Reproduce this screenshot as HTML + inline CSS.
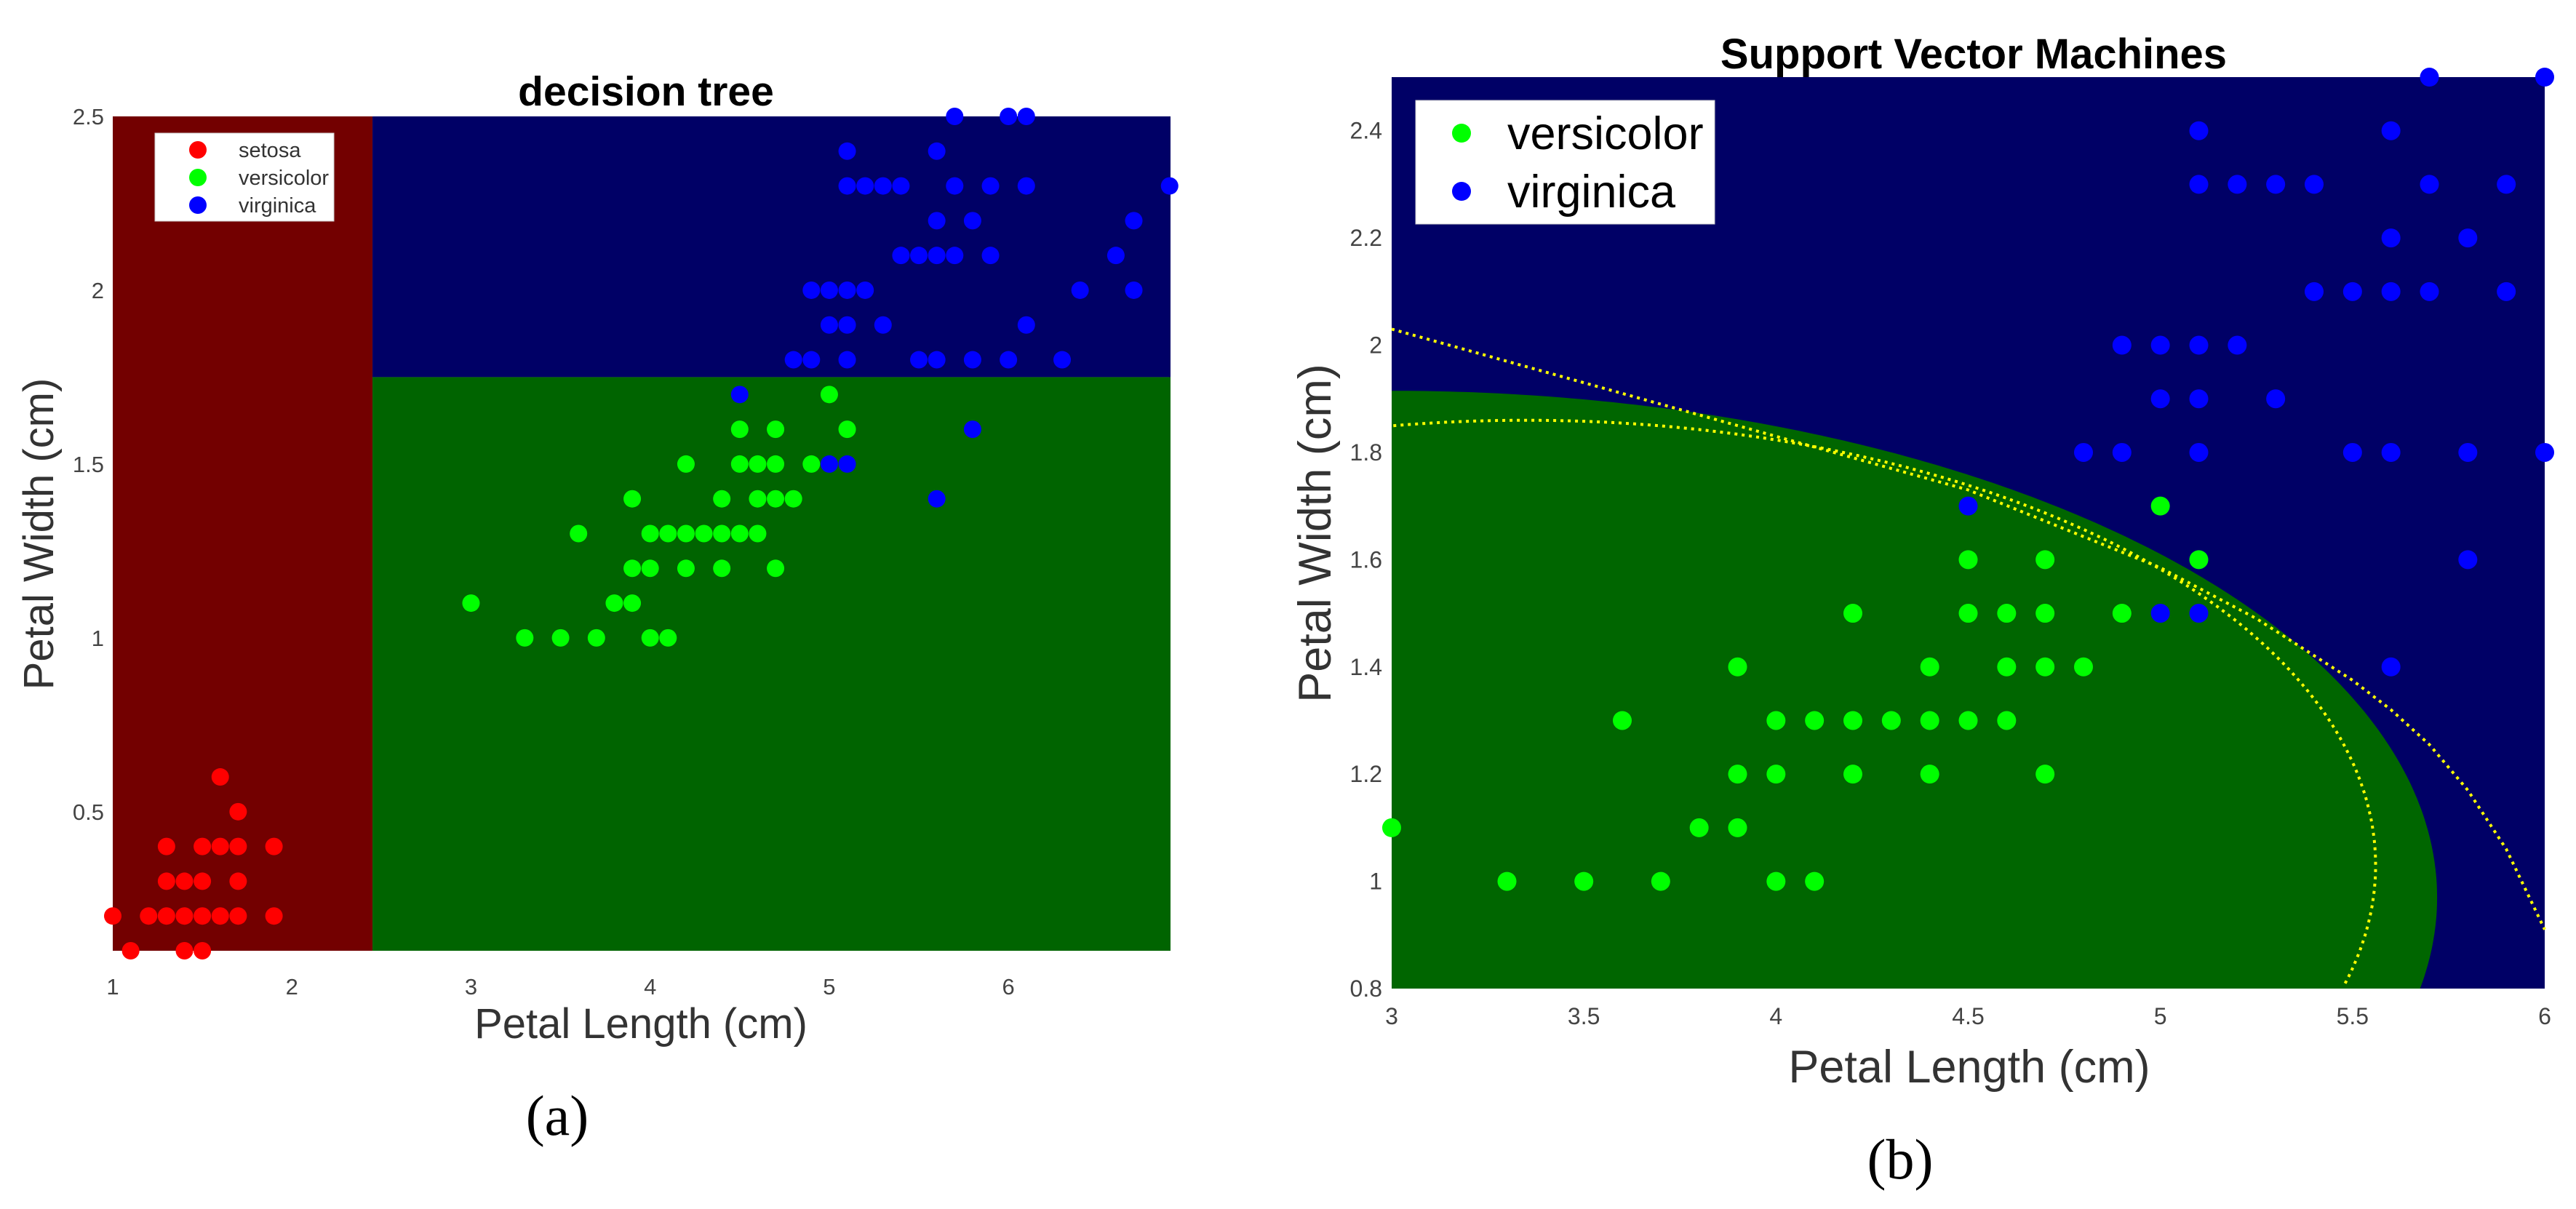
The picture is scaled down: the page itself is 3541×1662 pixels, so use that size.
<!DOCTYPE html>
<html><head><meta charset="utf-8"><style>
html,body{margin:0;padding:0;background:#fff;overflow:hidden;width:3541px;height:1662px;}
svg{display:block;}
text{font-family:"Liberation Sans",Arial,sans-serif;}
text.serif{font-family:"Liberation Serif",serif;}
</style></head><body>
<svg id="fig" width="3541" height="1662" viewBox="0 0 3541 1662" xmlns="http://www.w3.org/2000/svg">
<g id="chartA"></g>
<g id="chartB"></g>
</svg>
<script>
// Iris petal data (length, width)
const setosaX = [1.1,1.4,1.5, 1.0,1.2,1.3,1.4,1.5,1.6,1.7,1.9, 1.3,1.4,1.5,1.7, 1.3,1.5,1.6,1.7,1.9, 1.7, 1.6];
const setosaY = [0.1,0.1,0.1, 0.2,0.2,0.2,0.2,0.2,0.2,0.2,0.2, 0.3,0.3,0.3,0.3, 0.4,0.4,0.4,0.4,0.4, 0.5, 0.6];
const versiX = [3.3,3.5,3.7,4.0,4.1, 3.0,3.8,3.9, 3.9,4.0,4.2,4.4,4.7, 3.6,4.0,4.1,4.2,4.3,4.4,4.5,4.6, 3.9,4.4,4.6,4.7,4.8, 4.2,4.5,4.6,4.7,4.9, 4.5,4.7,5.1, 5.0];
const versiY = [1.0,1.0,1.0,1.0,1.0, 1.1,1.1,1.1, 1.2,1.2,1.2,1.2,1.2, 1.3,1.3,1.3,1.3,1.3,1.3,1.3,1.3, 1.4,1.4,1.4,1.4,1.4, 1.5,1.5,1.5,1.5,1.5, 1.6,1.6,1.6, 1.7];
const virgX = [5.6, 5.0,5.1, 5.8, 4.5, 4.8,4.9,5.1,5.5,5.6,5.8,6.0,6.3, 5.0,5.1,5.3,6.1, 4.9,5.0,5.1,5.2,6.4,6.7, 5.4,5.5,5.6,5.7,5.9,6.6, 5.6,5.8,6.7, 5.1,5.2,5.3,5.4,5.7,5.9,6.1,6.9, 5.1,5.6, 5.7,6.0,6.1];
const virgY = [1.4, 1.5,1.5, 1.6, 1.7, 1.8,1.8,1.8,1.8,1.8,1.8,1.8,1.8, 1.9,1.9,1.9,1.9, 2.0,2.0,2.0,2.0,2.0,2.0, 2.1,2.1,2.1,2.1,2.1,2.1, 2.2,2.2,2.2, 2.3,2.3,2.3,2.3,2.3,2.3,2.3,2.3, 2.4,2.4, 2.5,2.5,2.5];
// Decision tree splits
const treeSplitLength = [2.45];
const treeSplitWidth = [1.75];
const ticksAX = [1,2,3,4,5,6];
const ticksAY = [0.5,1,1.5,2,2.5];
const ticksBX = [3,3.5,4,4.5,5,5.5,6];
const ticksBY = [0.8,1,1.2,1.4,1.6,1.8,2,2.2,2.4];
// SVM boundary (ellipse params: cx, cy, rx, ry in data units)
const svmRegion = [3.0, 0.97, 2.72, 0.945];
const svmInner = [3.35, 1.03, 2.21, 0.83];
const svmOuterX = [3.0,3.5,4.0,4.5,5.0,5.25,5.5,5.6,5.7,5.8,5.9,6.0];
const svmOuterY = [2.03,1.93,1.83,1.73,1.585,1.49,1.375,1.32,1.255,1.17,1.06,0.91];

const NS = "http://www.w3.org/2000/svg";
function mk(parent, tag, attrs, txt){
  const e = document.createElementNS(NS, tag);
  for (const k in attrs) e.setAttribute(k, attrs[k]);
  if (txt !== undefined) e.textContent = txt;
  parent.appendChild(e);
  return e;
}
function lin(d0,d1,r0,r1){return v => r0 + (v-d0)/(d1-d0)*(r1-r0);}

// ---------- Chart A ----------
(function(){
  const g = document.getElementById('chartA');
  const L=155,R=1609,T=160,B=1307;
  const xs = lin(1,6.905,L,R), ys = lin(0.1,2.5,B,T);
  const sx = xs(treeSplitLength[0]), sy = ys(treeSplitWidth[0]);
  let r;
  r = mk(g,'rect',{x:L,y:T,width:sx-L,height:B-T,fill:'#730000'});
   
  r = mk(g,'rect',{x:sx,y:T,width:R-sx,height:sy-T,fill:'#000066'});
   
  r = mk(g,'rect',{x:sx,y:sy,width:R-sx,height:B-sy,fill:'#006400'});
   
  function pts(X,Y,col,name){
    for(let i=0;i<X.length;i++){
      const c = mk(g,'circle',{cx:xs(X[i]),cy:ys(Y[i]),r:12,fill:col});
      
      
    }
  }
  pts(setosaX,setosaY,'#ff0000','setosa-point');
  pts(versiX,versiY,'#00ff00','versicolor-point');
  pts(virgX,virgY,'#0000ff','virginica-point');
  ticksAX.forEach(v=>{const t=mk(g,'text',{x:xs(v),y:1367,'font-size':31,fill:'#444','text-anchor':'middle'},String(v));
     });
  ticksAY.forEach(v=>{const t=mk(g,'text',{x:143,y:ys(v)+11,'font-size':31,fill:'#444','text-anchor':'end'},String(v));
     });
  const lg = mk(g,'g',{});
   
  mk(lg,'rect',{x:213,y:183,width:246,height:121,fill:'#fff',stroke:'#ccc','stroke-width':1});
  [['setosa','#ff0000',206],['versicolor','#00ff00',244],['virginica','#0000ff',282]].forEach(e=>{
    const en = mk(lg,'g',{});
     
    mk(en,'circle',{cx:272,cy:e[2],r:12,fill:e[1]});
    mk(en,'text',{x:328,y:e[2]+10,'font-size':29,fill:'#333'},e[0]);
  });
  let t;
  t = mk(g,'text',{x:888,y:145,'font-size':57,'font-weight':'bold','text-anchor':'middle',fill:'#000'},'decision tree');
   
  t = mk(g,'text',{x:881,y:1427,'font-size':58,'text-anchor':'middle',fill:'#333'},'Petal Length (cm)');
   
  t = mk(g,'text',{x:0,y:0,'font-size':58,'text-anchor':'middle',fill:'#333',transform:'translate(73,734) rotate(-90)'},'Petal Width (cm)');
   
  t = mk(g,'text',{x:766,y:1560,'font-size':78,'text-anchor':'middle',fill:'#000','class':'serif'},'(a)');
   
})();

// ---------- Chart B ----------
(function(){
  const g = document.getElementById('chartB');
  const L=1913,R=3498,T=106,B=1359;
  const xs = lin(3,6,L,R), ys = lin(0.8,2.5,B,T);
  let r = mk(g,'rect',{x:L,y:T,width:R-L,height:B-T,fill:'#000066'});
   
  // sample the upper-right quarter-ish arc of an ellipse, keeping points inside axes
  function arc(p){
    const out=[];
    for(let i=0;i<=400;i++){
      const a = Math.PI - i*Math.PI/400; // from left (PI) over top to right (0) then continue below
      const x = p[0]+p[2]*Math.cos(a), y = p[1]+p[3]*Math.sin(a);
      if (x>=3 && y>=0.8) out.push([x,y]);
    }
    for(let i=1;i<=200;i++){
      const a = -i*Math.PI/400;
      const x = p[0]+p[2]*Math.cos(a), y = p[1]+p[3]*Math.sin(a);
      if (y<0.8) break;
      if (x>=3) out.push([x,y]);
    }
    return out;
  }
  const reg = arc(svmRegion);
  let d = 'M'+xs(3)+','+ys(0.8);
  reg.forEach(q=>{ d += ' L'+xs(q[0]).toFixed(1)+','+ys(q[1]).toFixed(1); });
  d += ' L'+xs(reg[reg.length-1][0]).toFixed(1)+','+ys(0.8)+' Z';
  const e1 = mk(g,'path',{d:d,fill:'#006600'});
   
  const inn = arc(svmInner);
  d='';
  inn.forEach((q,i)=>{ d += (i?' L':'M')+xs(q[0]).toFixed(1)+','+ys(q[1]).toFixed(1); });
  const e2 = mk(g,'path',{d:d,fill:'none',stroke:'#ffff00','stroke-width':4,'stroke-dasharray':'4 6'});
   
  d='';
  for(let i=0;i<svmOuterX.length;i++){ d += (i?' L':'M')+xs(svmOuterX[i]).toFixed(1)+','+ys(svmOuterY[i]).toFixed(1); }
  const p = mk(g,'path',{d:d,fill:'none',stroke:'#ffff00','stroke-width':4,'stroke-dasharray':'4 6','stroke-linejoin':'round'});
   
  function pts(X,Y,col,name){
    for(let i=0;i<X.length;i++){
      if (X[i]<3||X[i]>6||Y[i]<0.8) continue;
      const c = mk(g,'circle',{cx:xs(X[i]),cy:ys(Y[i]),r:13,fill:col});
      
      
    }
  }
  pts(versiX,versiY,'#00ff00','versicolor-point');
  pts(virgX,virgY,'#0000ff','virginica-point');
  ticksBX.forEach(v=>{const t=mk(g,'text',{x:xs(v),y:1408,'font-size':32,fill:'#444','text-anchor':'middle'},String(v));
     });
  ticksBY.forEach(v=>{const t=mk(g,'text',{x:1900,y:ys(v)+11,'font-size':32,fill:'#444','text-anchor':'end'},String(v));
     });
  const lg = mk(g,'g',{});
   
  mk(lg,'rect',{x:1946,y:138,width:411,height:170,fill:'#fff',stroke:'#ccc','stroke-width':1});
  [['versicolor','#00ff00',183],['virginica','#0000ff',263]].forEach(e=>{
    const en = mk(lg,'g',{});
     
    mk(en,'circle',{cx:2009,cy:e[2],r:13,fill:e[1]});
    mk(en,'text',{x:2072,y:e[2]+22,'font-size':63,fill:'#000'},e[0]);
  });
  let t;
  t = mk(g,'text',{x:2713,y:94,'font-size':58,'font-weight':'bold','text-anchor':'middle',fill:'#000'},'Support Vector Machines');
   
  t = mk(g,'text',{x:2707,y:1488,'font-size':63,'text-anchor':'middle',fill:'#333'},'Petal Length (cm)');
   
  t = mk(g,'text',{x:0,y:0,'font-size':63,'text-anchor':'middle',fill:'#333',transform:'translate(1829,733) rotate(-90)'},'Petal Width (cm)');
   
  t = mk(g,'text',{x:2612,y:1620,'font-size':78,'text-anchor':'middle',fill:'#000','class':'serif'},'(b)');
   
})();
</script>
</body></html>
